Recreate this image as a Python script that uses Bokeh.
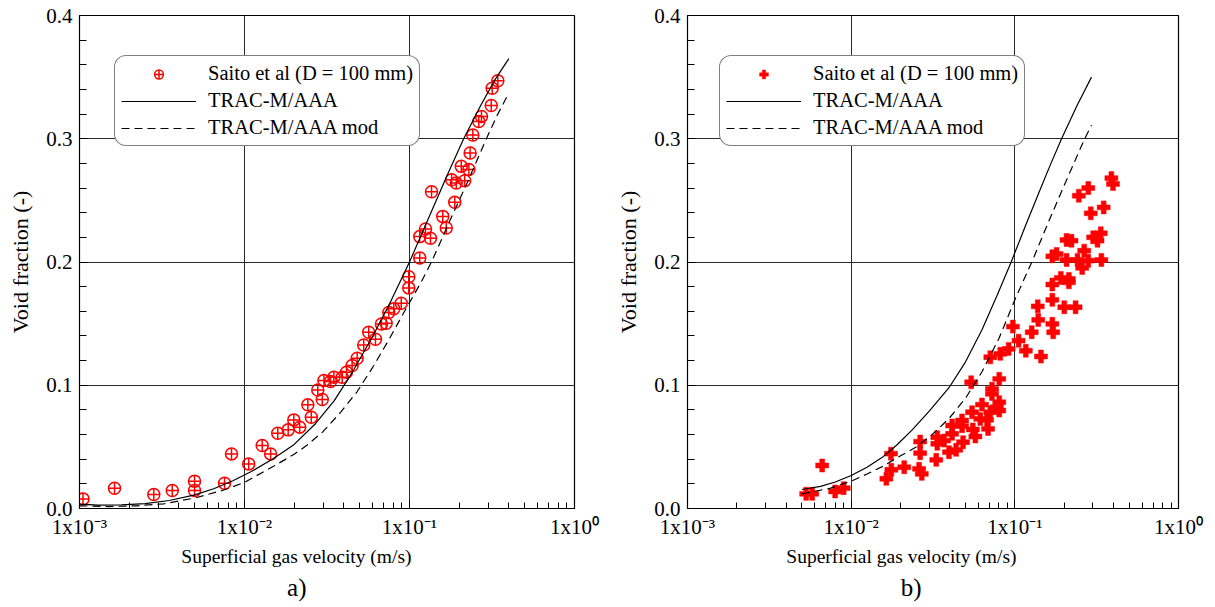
from bokeh.plotting import figure
from bokeh.layouts import row
from bokeh.models import FixedTicker, Legend, LegendItem, Title, Range1d
from bokeh.embed import file_html
from bokeh.resources import INLINE

FONT = "'Liberation Serif', 'Times New Roman', serif"

# ---------------- data: panel a) ----------------
a_exp_v = [0.00105, 0.00163, 0.00282, 0.00365, 0.00498, 0.00498, 0.00757, 0.00834, 0.0106, 0.0128,
           0.0144, 0.0159, 0.0184, 0.0199, 0.0216, 0.0242, 0.0254, 0.0278, 0.0296, 0.0303,
           0.0332, 0.0348, 0.0391, 0.0415, 0.0449, 0.0482, 0.0528, 0.0566, 0.0622, 0.0676,
           0.0722, 0.0749, 0.0803, 0.0891, 0.099, 0.099, 0.1154, 0.1154, 0.134, 0.125,
           0.136, 0.167, 0.159, 0.188, 0.180, 0.192, 0.216, 0.206, 0.229, 0.233,
           0.242, 0.263, 0.273, 0.313, 0.317, 0.343]
a_exp_void = [0.0078, 0.0165, 0.0113, 0.0146, 0.0222, 0.0146, 0.0205, 0.0443, 0.0362, 0.0511,
              0.0443, 0.061, 0.0638, 0.0719, 0.066, 0.0841, 0.074, 0.0962, 0.0884, 0.1038,
              0.103, 0.1065, 0.1065, 0.1105, 0.116, 0.1219, 0.1327, 0.143, 0.1373, 0.1497,
              0.1503, 0.159, 0.162, 0.1665, 0.179, 0.188, 0.2033, 0.2206, 0.2192, 0.2268,
              0.257, 0.2276, 0.237, 0.2484, 0.2668, 0.2641, 0.266, 0.2776, 0.275, 0.2884,
              0.303, 0.314, 0.318, 0.327, 0.341, 0.347]
a_trac_v = [0.001, 0.0013, 0.0018, 0.0025, 0.0035, 0.005, 0.0065, 0.0085, 0.011, 0.015,
            0.02, 0.027, 0.035, 0.045, 0.06, 0.075, 0.1, 0.13, 0.17, 0.213, 0.27, 0.33, 0.40]
a_trac = [0.0035, 0.0028, 0.0029, 0.0040, 0.0065, 0.0110, 0.0160, 0.0225, 0.0300, 0.0405,
          0.0520, 0.0690, 0.0875, 0.1105, 0.1400, 0.1650, 0.2000, 0.2350, 0.2710, 0.3000,
          0.3270, 0.3480, 0.3650]
a_mod_v = [0.001, 0.0015, 0.0022, 0.00324, 0.005, 0.0075, 0.01, 0.0151, 0.02, 0.024,
           0.03, 0.0382, 0.048, 0.0608, 0.075, 0.0969, 0.117, 0.137, 0.175, 0.225,
           0.29, 0.34, 0.396]
a_mod = [0.0022, 0.0016, 0.0022, 0.0038, 0.0085, 0.0150, 0.0212, 0.0345, 0.0440, 0.0515,
         0.0625, 0.0780, 0.0945, 0.1160, 0.1370, 0.1640, 0.1830, 0.2010, 0.2330, 0.2650,
         0.2990, 0.3190, 0.3360]

# ---------------- data: panel b) ----------------
b_exp_v = [0.00531, 0.00578, 0.00665, 0.00798, 0.0090, 0.0164, 0.0175, 0.0176, 0.0211, 0.0260,
           0.0270, 0.0264, 0.0264, 0.0331, 0.0336, 0.0336, 0.0369, 0.0396, 0.0414, 0.0414,
           0.0438, 0.0476, 0.0476, 0.0483, 0.0548, 0.0541, 0.0554, 0.0574, 0.0615, 0.0630,
           0.0676, 0.0686, 0.0708, 0.0708, 0.0725, 0.0725, 0.0777, 0.0803, 0.0803, 0.0815,
           0.0803, 0.0917, 0.0973, 0.1054, 0.1167, 0.1268, 0.1390, 0.1380, 0.1445, 0.1695,
           0.1716, 0.1695, 0.2005, 0.2350, 0.1695, 0.1910, 0.2138, 0.2138, 0.1695, 0.1800,
           0.2070, 0.2415, 0.2580, 0.2810, 0.2654, 0.3380, 0.2070, 0.2220, 0.3010, 0.3200,
           0.3350, 0.2910, 0.3490, 0.2460, 0.2810, 0.3890, 0.3980]
b_exp_void = [0.0119, 0.0119, 0.0349, 0.0138, 0.0165, 0.0241, 0.0445, 0.0314, 0.0335, 0.0322,
              0.0281, 0.0543, 0.0449, 0.0395, 0.0578, 0.0525, 0.0551, 0.0457, 0.0673, 0.0606,
              0.0476, 0.0714, 0.0668, 0.0538, 0.0781, 0.1024, 0.0641, 0.0584, 0.0727, 0.0843,
              0.0719, 0.0646, 0.0781, 0.1227, 0.0971, 0.0930, 0.0822, 0.0862, 0.0795, 0.1255,
              0.1052, 0.1295, 0.1476, 0.1362, 0.1280, 0.1430, 0.1530, 0.1640, 0.1233, 0.1498,
              0.1430, 0.1693, 0.1633, 0.1633, 0.1817, 0.1871, 0.1835, 0.1862, 0.2046, 0.2065,
              0.2017, 0.2017, 0.1952, 0.2011, 0.2092, 0.2017, 0.2179, 0.2173, 0.2200, 0.2173,
              0.2233, 0.2395, 0.2443, 0.2538, 0.2600, 0.2681, 0.2633]
b_trac_v = [0.005, 0.0065, 0.008, 0.01, 0.0125, 0.0155, 0.019, 0.0237, 0.03, 0.0396,
            0.05, 0.063, 0.078, 0.095, 0.115, 0.14, 0.165, 0.193, 0.24, 0.294]
b_trac = [0.0154, 0.0180, 0.0215, 0.0268, 0.0335, 0.0415, 0.0515, 0.0640, 0.0790, 0.0980,
          0.1190, 0.1450, 0.1730, 0.2000, 0.2280, 0.2560, 0.2790, 0.3000, 0.3270, 0.3500]
b_mod_v = [0.005, 0.0075, 0.01, 0.0125, 0.0155, 0.019, 0.0248, 0.031, 0.0396, 0.05,
           0.063, 0.08, 0.1005, 0.128, 0.16, 0.2, 0.265, 0.294]
b_mod = [0.0119, 0.0165, 0.0222, 0.0280, 0.0340, 0.0410, 0.0497, 0.0595, 0.0730, 0.0895,
         0.1110, 0.1380, 0.1700, 0.2010, 0.2320, 0.2620, 0.2990, 0.3110]

# ---------------- axes / labels ----------------
x_major = [0.001, 0.01, 0.1, 1.0]
x_tick_labels = ["1x10\u207b\u00b3", "1x10\u207b\u00b2", "1x10\u207b\u00b9", "1x10\u2070"]
y_major = [0.0, 0.1, 0.2, 0.3, 0.4]
y_tick_labels = ["0.0", "0.1", "0.2", "0.3", "0.4"]
x_minor = [m * 10.0 ** e for e in (-3, -2, -1) for m in range(2, 10)]
y_minor = [i * 0.02 for i in range(1, 20) if i % 5]

series_labels = ["Saito et al (D = 100 mm)", "TRAC-M/AAA", "TRAC-M/AAA mod"]
x_title = "Superficial gas velocity (m/s)"
y_title = "Void fraction (-)"
panel_letters = ["a)", "b)"]


def make_panel(letter, ev, evoid, tv, tvoid, mv, mvoid, marker, width, b_left, b_right,
               legend_loc, title_off, letter_off):
    p = figure(width=width, height=605, x_axis_type="log",
               x_range=Range1d(1e-3, 1.0), y_range=Range1d(0.0, 0.4),
               output_backend="svg", toolbar_location=None,
               min_border_left=b_left, min_border_right=b_right,
               min_border_top=15, min_border_bottom=97)
    p.background_fill_color = "white"
    p.border_fill_color = "white"
    p.outline_line_color = "black"
    p.outline_line_width = 1.2

    for g in (p.xgrid, p.ygrid):
        g.grid_line_color = "#2a2a2a"
        g.grid_line_width = 1

    xa = p.xaxis[0]
    xa.ticker = FixedTicker(ticks=x_major, minor_ticks=x_minor)
    xa.major_label_overrides = dict(zip(x_major, x_tick_labels))
    ya = p.yaxis[0]
    ya.ticker = FixedTicker(ticks=y_major, minor_ticks=y_minor)
    ya.major_label_overrides = dict(zip(y_major, y_tick_labels))
    for ax in (xa, ya):
        ax.axis_line_color = "black"
        ax.major_tick_in = 8
        ax.major_tick_out = 0
        ax.minor_tick_in = 7
        ax.minor_tick_out = 0
        ax.major_tick_line_color = "black"
        ax.minor_tick_line_color = "black"
        ax.major_label_text_font = FONT
        ax.major_label_text_font_size = "21px"
        ax.major_label_text_font_style = "normal"
        ax.major_label_text_color = "black"
        ax.major_label_standoff = 7
    xa.minor_tick_in = 6
    xa.major_label_standoff = 6
    ya.axis_label = y_title
    ya.axis_label_text_font = FONT
    ya.axis_label_text_font_size = "22px"
    ya.axis_label_text_font_style = "normal"
    ya.axis_label_text_color = "black"
    ya.axis_label_standoff = 10

    if marker == "circle_cross":
        r_exp = p.scatter(ev, evoid, marker="circle_cross", size=12, line_color="red",
                          line_width=1.5, fill_color=None)
    else:
        r_exp = p.scatter(ev, evoid, marker="plus", size=13, line_color="red",
                          fill_color="red", line_width=0.5)
    r_trac = p.line(tv, tvoid, line_color="black", line_width=1.2)
    r_mod = p.line(mv, mvoid, line_color="black", line_width=1.2, line_dash="8 5")

    leg = Legend(items=[LegendItem(label=series_labels[0], renderers=[r_exp]),
                        LegendItem(label=series_labels[1], renderers=[r_trac]),
                        LegendItem(label=series_labels[2], renderers=[r_mod])],
                 location=legend_loc)
    leg.label_text_font = FONT
    leg.label_text_font_size = "20.5px"
    leg.label_text_color = "black"
    leg.glyph_width = 75
    leg.glyph_height = 22
    leg.label_height = 22
    leg.label_standoff = 12
    leg.padding = 6
    leg.spacing = 4
    leg.margin = 0
    leg.border_line_color = "black"
    leg.border_line_width = 1
    leg.background_fill_color = "white"
    leg.background_fill_alpha = 1.0
    if "border_radius" in Legend.properties():
        leg.border_radius = 12
    p.add_layout(leg)

    t1 = Title(text=x_title, align="right", offset=title_off, text_font=FONT,
               text_font_size="19.5px", text_font_style="normal", text_color="black",
               standoff=4)
    p.add_layout(t1, "below")
    t2 = Title(text=letter, align="right", offset=letter_off, text_font=FONT,
               text_font_size="25px", text_font_style="normal", text_color="black",
               standoff=6)
    p.add_layout(t2, "below")
    return p


p1 = make_panel(panel_letters[0], a_exp_v, a_exp_void, a_trac_v, a_trac, a_mod_v, a_mod,
                "circle_cross", 613, 79, 39, (35, 362), 163, 268)
p2 = make_panel(panel_letters[1], b_exp_v, b_exp_void, b_trac_v, b_trac, b_mod_v, b_mod,
                "plus", 594, 71, 29, (32, 362), 162, 257)

layout = row(p1, p2)
open("out.html", "w").write(file_html(layout, INLINE))
